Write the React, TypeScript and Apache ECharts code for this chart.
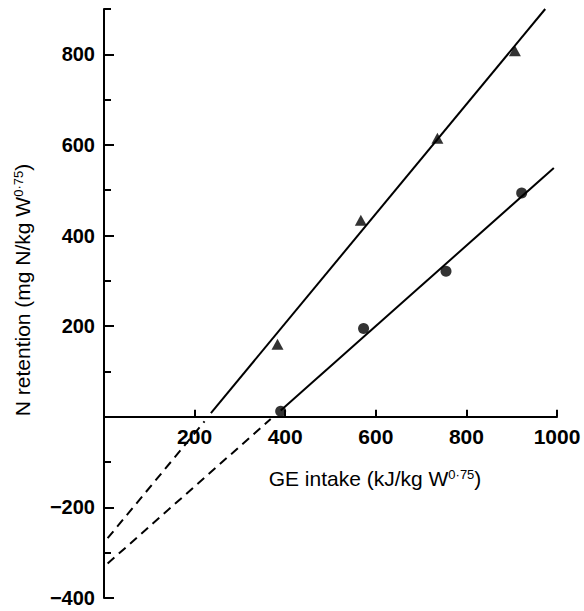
import React, { useEffect, useRef } from "react";
import * as echarts from "echarts";

// Data
const triangles: [number, number][] = [
  [383, 160],
  [567, 434],
  [736, 615],
  [907, 808],
];
const circles: [number, number][] = [
  [390, 12],
  [573, 195],
  [755, 321],
  [922, 494],
];
// fitted lines (endpoints as drawn)
const upperSolid: [number, number][] = [
  [236, 8],
  [974, 900],
];
const upperDashed: [number, number][] = [
  [8, -268],
  [222, -10],
];
const lowerSolid: [number, number][] = [
  [390, 14],
  [993, 549],
];
const lowerDashed: [number, number][] = [
  [8, -324],
  [368, -5],
];
const yMajorTicks = [-400, -200, 0, 200, 400, 600, 800];
const yLabels = [-400, -200, 200, 400, 600, 800];
const yMinorTicks = [-300, -100, 100, 300, 500, 700, 900];
const xLabels = [200, 400, 600, 800, 1000];
const yMin = -400;
const yMax = 900;

const FONT = "'Liberation Sans', Arial, Helvetica, sans-serif";

export default function App() {
  const ref = useRef<HTMLDivElement>(null);
  useEffect(() => {
    if (!ref.current) return;
    const chart = echarts.init(ref.current, undefined, { renderer: "svg" });
    const lineStyle = { color: "#000", width: 2 };
    const H = 611;
    const top = 9;
    const bottom = 13;
    const plotH = H - top - bottom;
    const zeroY = top + (yMax / (yMax - yMin)) * plotH;
    chart.setOption({
      animation: false,
      backgroundColor: "#fff",
      grid: [
        {
          left: 104,
          right: 27,
          top,
          bottom,
          containLabel: false,
          outerBoundsMode: "none",
        },
        {
          left: 104,
          right: 27,
          top,
          height: zeroY - top,
          containLabel: false,
          outerBoundsMode: "none",
        },
      ],
      xAxis: [
        {
          type: "value",
          gridIndex: 0,
          min: 0,
          max: 1000,
          interval: 200,
          axisLine: { show: true, onZero: true, onZeroAxisIndex: 0, lineStyle },
          axisTick: {
            show: true,
            inside: true,
            length: 7,
            customValues: xLabels,
            lineStyle: { color: "#000", width: 2 },
          },
          axisLabel: { show: false },
          splitLine: { show: false },
        },
        {
          type: "value",
          gridIndex: 1,
          min: 0,
          max: 1000,
          interval: 200,
          axisLine: { show: false, onZero: false },
          axisTick: { show: false },
          axisLabel: {
            customValues: xLabels,
            color: "#000",
            fontFamily: FONT,
            fontSize: 21,
            fontWeight: "bold",
            margin: 9,
            formatter: (v: number) => String(v),
          },
          splitLine: { show: false },
        },
      ],
      yAxis: [
        {
          type: "value",
          gridIndex: 0,
          min: yMin,
          max: yMax,
          interval: 200,
          axisLine: { show: true, onZero: false, lineStyle },
          axisTick: {
            show: true,
            inside: true,
            length: 10,
            customValues: yMajorTicks,
            lineStyle: { color: "#000", width: 2 },
          },
          axisLabel: {
            customValues: yLabels,
            color: "#000",
            fontFamily: FONT,
            fontSize: 20,
            lineHeight: 16,
            fontWeight: "bold",
            margin: 9,
            formatter: (v: number) => String(v).replace("-", "\u2212"),
          },
          splitLine: { show: false },
        },
        {
          type: "value",
          gridIndex: 0,
          position: "left",
          min: yMin,
          max: yMax,
          interval: 100,
          axisLine: { show: false, onZero: false },
          axisTick: {
            show: true,
            inside: true,
            length: 7,
            customValues: yMinorTicks,
            lineStyle: { color: "#000", width: 2 },
          },
          axisLabel: { show: false },
          splitLine: { show: false },
        },
        {
          type: "value",
          gridIndex: 1,
          min: 0,
          max: yMax,
          show: false,
        },
      ],
      series: [
        {
          type: "line",
          data: upperSolid,
          symbol: "none",
          lineStyle: { color: "#000", width: 2 },
          z: 2,
        },
        {
          type: "line",
          data: lowerSolid,
          symbol: "none",
          lineStyle: { color: "#000", width: 2 },
          z: 2,
        },
        {
          type: "line",
          data: upperDashed,
          symbol: "none",
          lineStyle: { color: "#000", width: 2, type: [9, 6] },
          z: 2,
        },
        {
          type: "line",
          data: lowerDashed,
          symbol: "none",
          lineStyle: { color: "#000", width: 2, type: [9, 6] },
          z: 2,
        },
        {
          type: "scatter",
          data: triangles,
          symbol: "triangle",
          symbolSize: [12, 11],
          itemStyle: { color: "#000" },
          z: 3,
        },
        {
          type: "scatter",
          data: circles,
          symbol: "circle",
          symbolSize: 11,
          itemStyle: { color: "#000" },
          z: 3,
        },
      ],
      graphic: [
        {
          type: "text",
          x: 375,
          y: 478,
          style: {
            text: "{m|GE intake (kJ/kg W}{s|0·75}{m|)}",
            textAlign: "center",
            textVerticalAlign: "middle",
            fill: "#000",
            rich: {
              m: { fontSize: 21, fontFamily: FONT, fill: "#000", verticalAlign: "bottom" },
              s: { fontSize: 13, fontFamily: FONT, fill: "#000", verticalAlign: "top" },
            },
          },
        },
        {
          type: "text",
          x: 22,
          y: 290,
          rotation: Math.PI / 2,
          style: {
            text: "{m|N retention (mg N/kg W}{s|0·75}{m|)}",
            textAlign: "center",
            textVerticalAlign: "middle",
            fill: "#000",
            rich: {
              m: { fontSize: 21, fontFamily: FONT, fill: "#000", verticalAlign: "bottom" },
              s: { fontSize: 13, fontFamily: FONT, fill: "#000", verticalAlign: "top" },
            },
          },
        },
      ],
    });
    return () => chart.dispose();
  }, []);
  return (
    <div
      ref={ref}
      style={{ position: "fixed", left: 0, top: 0, width: 584, height: 611 }}
    />
  );
}
